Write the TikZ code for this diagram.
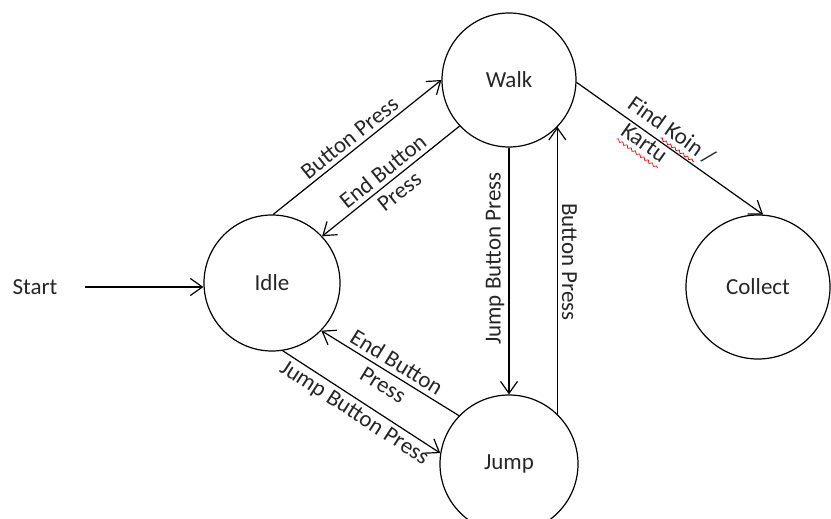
\documentclass[tikz,border=0pt]{standalone}
\usepackage{fontspec}
\setmainfont{Carlito}
\usetikzlibrary{arrows.meta,decorations.pathmorphing}
% red spell-check wave under a word
\newlength\wavelen
\newcommand\spellwave[1]{\setbox0\hbox{#1}\setlength\wavelen{\wd0}\rlap{\tikz[baseline=0pt]\draw[-, red!85!black, line width=0.35pt, decorate, decoration={snake, amplitude=0.6pt, segment length=2.6pt}] (0pt,-2.8pt) -- (\wavelen,-2.8pt);}\box0\relax}
\tikzset{
  stnode/.style={draw, circle, minimum size=68pt, line width=0.6pt, text=black!85, font=\fontsize{11.5}{13}\selectfont},
  lbl/.style={text=black!85, font=\fontsize{11.5}{13}\selectfont, inner sep=2pt}
}
\begin{document}
\begin{tikzpicture}[x=0.5pt, y=-0.5pt, line width=0.6pt, >={Straight Barb[length=6pt,width=8.5pt]}]
    \useasboundingbox (0,0) rectangle (831,519);
    % states
    \node[stnode] (idle) at (272,283) {Idle};
    \node[stnode, minimum size=67pt] (walk) at (509,80) {Walk};
    \node[stnode, minimum size=69pt] (jump) at (509,464) {Jump};
    \node[stnode, minimum size=72pt] (collect) at (758,287) {Collect};
    \node[lbl, inner xsep=13.5pt] (start) at (35,287) {Start};
    % start
    \draw[->] (start.east) -- (start.east -| idle.west);
    % idle and walk
    \draw[->] (idle.89) -- (walk.180) node[lbl, midway, sloped, above] {Button Press};
    \draw[->] (walk.223) -- (idle.43) node[lbl, midway, sloped, align=center] {End Button\\Press};
    % walk and jump
    \draw[->] (walk.south) -- (jump.north) node[lbl, pos=0.45, rotate=90, above] {Jump Button Press};
    \draw[->] (jump.46) -- (jump.46 |- walk.-44) node[lbl, pos=0.53, rotate=-90, above] {Button Press};
    % idle and jump
    \draw[->] (jump.136) -- (idle.-44) node[lbl, midway, sloped, align=center] {End Button\\Press};
    \draw[->] (idle.-81) -- (jump.171) node[lbl, midway, sloped, below] {Jump Button Press};
    % collect
    \draw[->] (walk.-2) -- (collect.86) node[lbl, pos=0.46, sloped, align=left] {Find \spellwave{Koin} /\\\hspace*{5pt}\spellwave{Kartu}};
\end{tikzpicture}
\end{document}
